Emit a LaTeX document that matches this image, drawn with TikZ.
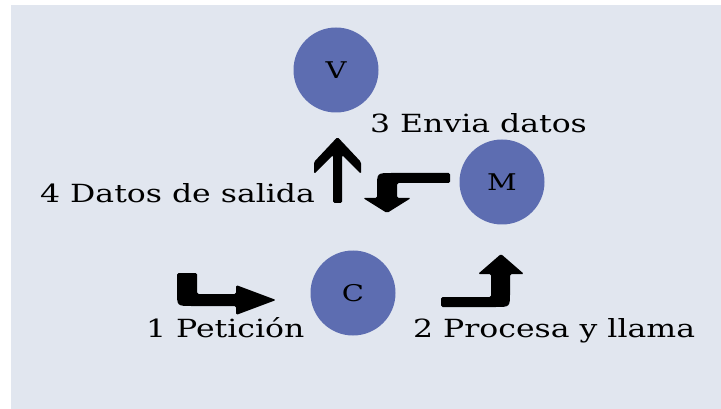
\documentclass[tikz,border=0pt]{standalone}
\usepackage{fontspec}
\newfontfamily\lblfont{DejaVu Serif}[FakeStretch=1.26]
\definecolor{panel}{HTML}{E1E6EF}
\definecolor{orb}{HTML}{5D6DB1}
\tikzset{
  orbnode/.style={circle, fill=orb, minimum size=85pt, inner sep=0pt,
                  font=\lblfont\fontsize{23}{27}\selectfont},
  caption/.style={anchor=base west, inner sep=0pt,
                  font=\lblfont\fontsize{25}{30}\selectfont},
  bentarrow/.style={fill=black, rounded corners=1.5pt}
}
\begin{document}
\begin{tikzpicture}[x=1pt, y=-1pt]
  \useasboundingbox (0,0) rectangle (721,409);
  \fill[white] (0,0) rectangle (721,409);
  \fill[panel] (11,5) rectangle (721,409);

  % model, view, controller
  \node[orbnode] (V) at (336,70) {V};
  \node[orbnode] (M) at (502,182) {M};
  \node[orbnode] (C) at (353,293) {C};

  % step captions
  \node[caption] (t3) at (370,133) {3 Envia datos};
  \node[caption] (t4) at (40,203) {4 Datos de salida};
  \node[caption] (t1) at (146,337) {1 Petición};
  \node[caption] (t2) at (413,337) {2 Procesa y llama};

  % 1: bent arrow into the controller
  \fill[bentarrow] (177,273) -- (197,273) -- (197,294) -- (236,294) -- (236,285)
    -- (276,300) -- (236,315) -- (236,306) -- (193,306)
    .. controls (177,306) .. (177,290) -- cycle;

  % 2: bent arrow up towards the model
  \fill[bentarrow] (441,297) -- (491,297) -- (491,274) -- (478,274) -- (501,254)
    -- (524,274) -- (510,274) -- (510,291)
    .. controls (510,307) .. (494,307) -- (441,307) -- cycle;

  % 3: bent arrow from the model down
  \fill[bentarrow] (450,173) -- (393,173) .. controls (377,173) .. (377,189)
    -- (377,198) -- (363,198) -- (387,213) -- (411,198) -- (397,198)
    -- (397,183) -- (450,183) -- cycle;

  % 4: straight arrow up to the view
  \fill[bentarrow] (337.5,137) -- (361,162) -- (361,174) -- (342,155)
    -- (342,203) -- (333,203) -- (333,155) -- (314,174) -- (314,162) -- cycle;
\end{tikzpicture}
\end{document}
